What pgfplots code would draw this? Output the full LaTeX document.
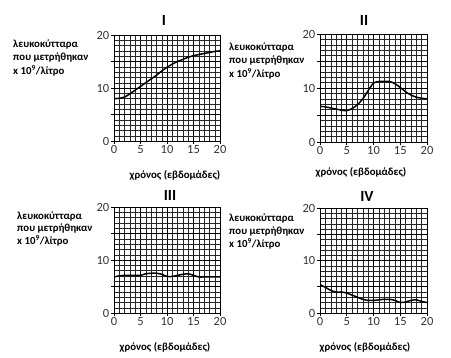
\documentclass[border=0pt]{standalone}
\usepackage{fontspec}
\setmainfont{Carlito}
\usepackage{pgfplots}
\pgfplotsset{compat=1.18}
\pgfplotsset{panel/.style={
  scale only axis, width=106pt, height=106pt,
  xmin=0,xmax=20,ymin=0,ymax=20,
  xtick={0,5,...,20}, ytick={0,5,...,20}, yticklabels={0,,10,,20},
  minor tick num=4, grid=both,
  major grid style={black, line width=0.8pt},
  minor grid style={black!85, line width=0.35pt},
  tick align=outside, tick pos=left, major tick length=3pt, minor tick length=0pt,
  axis line style={black, line width=0.8pt},
  tick style={black, line width=0.6pt},
  tick label style={font=\fontsize{12.5}{14}\selectfont, text=black!80},
  /pgf/number format/assume math mode=true,
  xticklabel style={inner sep=1.5pt},
  yticklabel style={inner sep=1.5pt},
}}
\pgfplotsset{curve/.style={black, line width=1.5pt, smooth, mark=none}}
\newcommand{\lbl}{\fontsize{10.8}{13}\selectfont\bfseries}
\begin{document}
\begin{tikzpicture}
\useasboundingbox (0,0) rectangle (451pt,358pt);
% Panel I
\begin{axis}[panel, at={(114pt,217pt)}, anchor=south west]
\addplot[curve] coordinates {(0,8.0) (1,8.05) (2,8.3) (3,8.9) (4,9.6) (5,10.3) (6,11.0) (7,11.7) (8,12.4) (9,13.2) (10,13.9) (11,14.5) (12,15.0) (13,15.4) (14,15.8) (15,16.1) (16,16.3) (17,16.5) (18,16.7) (19,16.9) (20,17.0)};
\end{axis}
% Panel II
\begin{axis}[panel, at={(320pt,216pt)}, anchor=south west, width=107pt, height=108pt]
\addplot[curve] coordinates {(0,6.6) (1,6.5) (2,6.3) (3,6.1) (4,5.9) (5,5.8) (6,6.2) (7,6.9) (8,8.0) (9,9.5) (10,10.9) (11,11.2) (12,11.2) (13,11.2) (14,10.8) (15,10.1) (16,9.3) (17,8.7) (18,8.3) (19,8.1) (20,8.0)};
\end{axis}
% Panel III
\begin{axis}[panel, at={(114pt,45pt)}, anchor=south west]
\addplot[curve] coordinates {(0,6.8) (1,7.0) (2,7.1) (3,7.1) (4,7.1) (5,7.1) (6,7.4) (7,7.5) (8,7.5) (9,7.3) (10,6.9) (11,6.9) (12,7.1) (13,7.3) (14,7.4) (15,7.1) (16,6.8) (17,6.8) (18,6.8) (19,6.8) (20,6.8)};
\end{axis}
% Panel IV
\begin{axis}[panel, at={(320pt,45pt)}, anchor=south west, width=107pt, height=105pt]
\addplot[curve] coordinates {(0,5.4) (1,4.9) (2,4.3) (3,4.0) (4,4.0) (5,3.8) (6,3.4) (7,3.0) (8,2.6) (9,2.4) (10,2.4) (11,2.5) (12,2.6) (13,2.6) (14,2.4) (15,2.0) (16,2.1) (17,2.4) (18,2.5) (19,2.2) (20,2.0)};
\end{axis}
% Titles
\node[font=\fontsize{15.5}{17}\selectfont\bfseries] at (164pt,338pt) {I};
\node[font=\fontsize{15.5}{17}\selectfont\bfseries] at (364pt,338pt) {II};
\node[font=\fontsize{15.5}{17}\selectfont\bfseries] at (170pt,163pt) {III};
\node[font=\fontsize{15.5}{17}\selectfont\bfseries] at (367pt,162pt) {IV};
% x labels
\node[font=\lbl] at (175pt,183pt) {χρόνος (εβδομάδες)};
\node[font=\lbl] at (361pt,186pt) {χρόνος (εβδομάδες)};
\node[font=\lbl] at (165pt,11pt) {χρόνος (εβδομάδες)};
\node[font=\lbl] at (365pt,11pt) {χρόνος (εβδομάδες)};
% y labels
\foreach \x/\ya/\yb/\yc in {13/313/300/287, 229/310/297/284, 17/141/129/117, 229/139/126/114}{
  \node[font=\lbl, anchor=west, inner sep=0pt] at (\x pt,\ya pt) {λευκοκύτταρα};
  \node[font=\lbl, anchor=west, inner sep=0pt] at (\x pt,\yb pt) {που μετρήθηκαν};
  \node[font=\lbl, anchor=west, inner sep=0pt] at (\x pt,\yc pt) {x 10\textsuperscript{9}/λίτρο};
}
\end{tikzpicture}
\end{document}
